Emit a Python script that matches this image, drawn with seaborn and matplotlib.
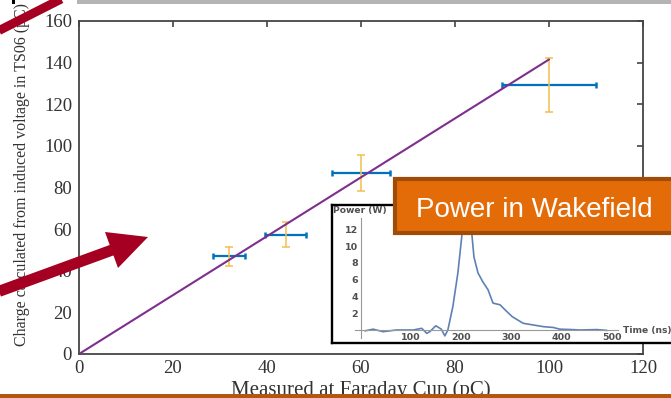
import matplotlib
matplotlib.use("Agg")
import matplotlib.pyplot as plt
from matplotlib.patches import Rectangle, Polygon
from matplotlib.lines import Line2D
from matplotlib.ticker import MultipleLocator, FixedLocator
import seaborn as sns

# ---------------- data ----------------
x_meas = [32, 44, 60, 100]          # Measured at Faraday Cup (pC)
x_err = [3.4, 4.4, 6.1, 10.1]
y_calc = [47, 57.2, 87, 129.3]      # Charge calculated from induced voltage (pC)
y_err = [4.5, 6.0, 8.7, 13.0]
fit_x = [0, 100]
fit_y = [0, 141.5]

x_ticks = [0, 20, 40, 60, 80, 100, 120]
y_ticks = [0, 20, 40, 60, 80, 100, 120, 140, 160]

# inset: power in wakefield
t_ns = [8, 24, 44, 70, 104, 121, 131, 137, 149, 160, 167, 173, 183, 193, 201,
        211, 221, 225, 233, 243, 253, 263, 277, 287, 301, 323, 343, 363, 383,
        396, 420, 436, 470, 490]
p_w = [-0.1, 0.1, -0.2, 0.0, 0.0, 0.2, -0.4, -0.2, 0.5, 0.1, -0.7, 0.0, 2.8,
       6.8, 11.3, 14.0, 11.3, 8.7, 6.8, 5.7, 4.8, 3.2, 3.0, 2.4, 1.6, 0.8, 0.6,
       0.4, 0.3, 0.1, 0.05, 0.0, 0.05, -0.05]
inset_xticks = [100, 200, 300, 400, 500]
inset_yticks = [2, 4, 6, 8, 10, 12]

# ---------------- figure ----------------
W, H = 671, 398
sns.set_style("white")
plt.rcParams["font.family"] = ["Liberation Serif", "DejaVu Serif"]

fig = plt.figure(figsize=(W / 100, H / 100), dpi=100)
fig.patch.set_facecolor("white")


def P(x, y):
    return (x / W, 1 - y / H)


# main axes
ax = fig.add_axes([79 / W, 1 - 354 / H, (643 - 79) / W, (354 - 21) / H])
ax.set_facecolor("white")
ax.errorbar(x_meas, y_calc, xerr=x_err, fmt="none", ecolor="#0072BD",
            elinewidth=1.6, capsize=2.0, capthick=1.8, zorder=2)
ax.errorbar(x_meas, y_calc, yerr=y_err, fmt="none", ecolor="#F2BE4E",
            elinewidth=1.1, capsize=3.0, capthick=1.1, zorder=2)
sns.lineplot(x=fit_x, y=fit_y, ax=ax, color="#7E2F8E", lw=1.5, zorder=3)
ax.set_xlim(0, 120)
ax.set_ylim(0, 160)
ax.set_xticks(x_ticks)
ax.set_yticks(y_ticks)
ax.tick_params(direction="in", top=True, right=True, length=4, width=1.2,
               color="#444444", labelcolor="#333333", labelsize=13.5, pad=5)
ax.tick_params(axis="x", pad=4)
for s in ax.spines.values():
    s.set_visible(True)
    s.set_color("#444444")
    s.set_linewidth(1.3)
ax.set_xlabel("")
ax.set_ylabel("")

fig.text(*P(22, 174), "Charge calculated from induced voltage in TS06 (pC)",
         rotation=90, ha="center", va="center", fontsize=11.5, color="#333333")
fig.text(*P(361, 394.5), "Measured at Faraday Cup (pC)", ha="center",
         va="baseline", fontsize=15, color="#333333")

# inset frame
frame = fig.add_axes([332 / W, 1 - 343 / H, (690 - 332) / W, (343 - 205) / H])
frame.set_facecolor("white")
frame.set_xticks([])
frame.set_yticks([])
for s in frame.spines.values():
    s.set_color("black")
    s.set_linewidth(1.7)
frame.set_zorder(3)

# inset plot
ins = fig.add_axes([355 / W, 1 - 338.4 / H, (618 - 355) / W, (338.4 - 218.3) / H])
ins.set_zorder(4)
ins.patch.set_alpha(0)
sns.lineplot(x=t_ns, y=p_w, ax=ins, color="#5E81B5", lw=1.2)
ins.set_xlim(-12, 512)
ins.set_ylim(-1.0, 13.3)
ins.spines["top"].set_visible(False)
ins.spines["right"].set_visible(False)
for k in ("left", "bottom"):
    ins.spines[k].set_position(("data", 0))
    ins.spines[k].set_color("#999999")
    ins.spines[k].set_linewidth(0.8)
ins.xaxis.set_major_locator(FixedLocator(inset_xticks))
ins.xaxis.set_minor_locator(MultipleLocator(20))
ins.yaxis.set_major_locator(FixedLocator(inset_yticks))
ins.yaxis.set_minor_locator(MultipleLocator(0.5))
ins.tick_params(which="major", direction="in", length=3.5, width=0.7,
                color="#999999", labelsize=6.8, labelcolor="#505050", pad=2)
ins.tick_params(which="minor", direction="in", length=1.8, width=0.5,
                color="#aaaaaa")
for lab in ins.get_xticklabels() + ins.get_yticklabels():
    lab.set_family("DejaVu Sans")
    lab.set_fontweight("bold")
ins.set_xlabel("")
ins.set_ylabel("")

fig.text(*P(333, 211), "Power (W)", ha="left", va="center", fontsize=6.6,
         color="#505050", family="DejaVu Sans", fontweight="bold", zorder=6)
fig.text(*P(623, 330), "Time (ns)", ha="left", va="center", fontsize=6.6,
         color="#505050", family="DejaVu Sans", fontweight="bold", zorder=6)

# orange callout box
x0, y0 = P(394.7, 233)
x1, y1 = P(700, 178.7)
fig.patches.append(Rectangle((x0, y0), x1 - x0, y1 - y0, transform=fig.transFigure,
                             facecolor="#E36C09", edgecolor="#A04C06",
                             linewidth=3.0, zorder=10))
fig.text(*P(416, 216.7), "Power in Wakefield", ha="left", va="baseline",
         fontsize=20, color="white", family=["Liberation Sans", "DejaVu Sans"],
         zorder=11)

# slide decorations: top gray bar, bottom orange rule, red arrows
gx, gy = P(77, 4)
fig.patches.append(Rectangle((gx, gy), 1 - gx, 1 - gy, transform=fig.transFigure,
                             facecolor="#B4B4B4", edgecolor="none", zorder=9))
bx, by = P(12.3, 4)
fig.patches.append(Rectangle((bx, by), 2.8 / W, 1 - by, transform=fig.transFigure,
                             facecolor="black", edgecolor="none", zorder=9))
ox, oy = P(0, 398)
fig.patches.append(Rectangle((ox, oy), 1, 4.5 / H, transform=fig.transFigure,
                             facecolor="#B5560F", edgecolor="none", zorder=9))

red = "#A50021"
a1 = [P(-20, 40.2), P(79, -10)]
fig.lines.append(Line2D([a1[0][0], a1[1][0]], [a1[0][1], a1[1][1]],
                        transform=fig.transFigure, color=red, lw=6.4,
                        solid_capstyle="butt", zorder=12))
a2 = [P(-20, 298.3), P(113, 249.7)]
fig.lines.append(Line2D([a2[0][0], a2[1][0]], [a2[0][1], a2[1][1]],
                        transform=fig.transFigure, color=red, lw=8.0,
                        solid_capstyle="butt", zorder=12))
fig.patches.append(Polygon([P(105, 232), P(148, 237), P(118, 268)], closed=True,
                           transform=fig.transFigure, facecolor=red,
                           edgecolor="none", zorder=12))

fig.savefig("out.png", dpi=100)
